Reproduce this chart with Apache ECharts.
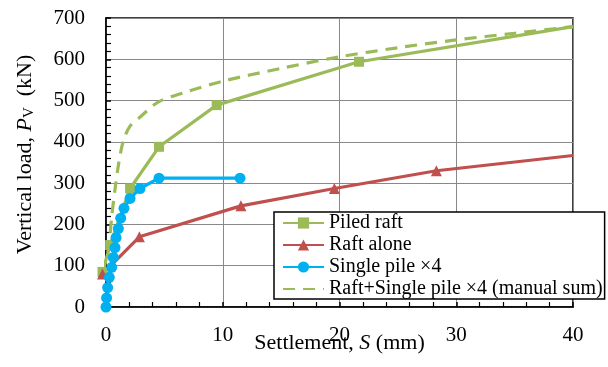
<!DOCTYPE html>
<html>
<head>
<meta charset="utf-8">
<script src="https://cdn.jsdelivr.net/npm/echarts@6/dist/echarts.min.js"></script>
<style>
  html, body { margin: 0; padding: 0; background: #fff; }
  #chart { width: 608px; height: 367px; }
</style>
</head>
<body>
<div id="chart"></div>
<script>
// settlement S (mm) and vertical load Pv (kN)
const pileRaftS = [-0.3, 0.35, 2.06, 4.54, 9.48, 21.67, 40]
const pileRaftP = [85, 150, 287, 388, 489, 594, 679]

const raftS = [-0.3, 2.86, 11.56, 19.56, 28.3, 40]
const raftP = [80, 170, 245, 287, 330, 367]

const pileS = [0, 0.05, 0.14, 0.28, 0.49, 0.63, 0.77, 0.86, 1.06, 1.26, 1.54, 2.06, 2.91, 4.54, 11.48]
const pileP = [0, 22, 47, 72, 96, 120, 144, 168, 190, 215, 239, 263, 287, 312, 312]

const sumS = [-0.3, 0.2, 0.49, 0.77, 1.1, 1.5, 2.06, 3.0, 4.5, 7, 10, 15, 20, 25, 30, 35, 40]
const sumP = [85, 138, 219, 285, 350, 404, 438, 462, 497, 522, 547, 578, 606, 628, 647, 663, 679]

const names = ['Piled raft', 'Raft alone', 'Single pile ×4', 'Raft+Single pile ×4 (manual sum)']

const green = '#9BBB59'
const red = '#C0504D'
const blue = '#00B0F0'
const font = 'Liberation Serif'

// pair up x/y; the last point of a curve that runs to the border has no marker
function pairs (xs, ys, lastBare) {
  return xs.map(function (x, i) {
    if (lastBare && i === xs.length - 1) {
      return { value: [x, ys[i]], symbol: 'none' }
    }
    return [x, ys[i]]
  })
}

const chart = echarts.init(document.getElementById('chart'))

const option = {
  animation: false,
  grid: {
    left: 106,
    top: 18,
    width: 467,
    height: 289,
    containLabel: false,
    outerBoundsMode: 'none',
    show: true,
    borderColor: '#000',
    borderWidth: 1.5,
    backgroundColor: 'transparent'
  },
  legend: {
    data: [
      names[0],
      names[1],
      names[2],
      // dashed curve has no marker, so hide the legend symbol
      { name: names[3], itemStyle: { opacity: 0 } }
    ],
    orient: 'vertical',
    left: 274,
    top: 212,
    itemWidth: 41,
    itemHeight: 14,
    itemGap: 2,
    padding: [1, 2, 0, 8],
    backgroundColor: '#fff',
    borderColor: '#000',
    borderWidth: 1.5,
    borderRadius: 0,
    textStyle: {
      fontFamily: font,
      fontSize: 20,
      lineHeight: 20,
      color: '#000'
    }
  },
  xAxis: {
    type: 'value',
    min: 0,
    max: 40,
    interval: 10,
    name: 'Settlement, {i|S} (mm)',
    nameLocation: 'middle',
    nameGap: 25,
    nameMoveOverlap: false,
    nameTextStyle: {
      fontFamily: font,
      fontSize: 22,
      color: '#000',
      rich: {
        i: { fontFamily: font, fontSize: 22, fontStyle: 'italic', color: '#000' }
      }
    },
    axisLine: { lineStyle: { color: '#000', width: 1.5 } },
    axisTick: { inside: true, length: 5, lineStyle: { color: '#000', width: 1.5 } },
    minorTick: { show: true, splitNumber: 5, length: 5, lineStyle: { color: '#000', width: 1.2 } },
    axisLabel: { margin: 18, fontFamily: font, fontSize: 21, color: '#000' },
    splitLine: { show: true, lineStyle: { color: '#888', width: 1 } }
  },
  yAxis: {
    type: 'value',
    min: 0,
    max: 700,
    interval: 100,
    name: '{n|Vertical load, }{i|P}{s|V}{n|  (kN)}',
    nameLocation: 'middle',
    nameGap: 69,
    nameMoveOverlap: false,
    nameTextStyle: {
      padding: [0, 0, 0, 16],
      rich: {
        n: { fontFamily: font, fontSize: 22, color: '#000' },
        i: { fontFamily: font, fontSize: 22, fontStyle: 'italic', color: '#000' },
        s: { fontFamily: font, fontSize: 15, color: '#000', verticalAlign: 'bottom', padding: [9, 0, 0, 0] }
      }
    },
    axisLine: { lineStyle: { color: '#000', width: 1.5 } },
    axisTick: { inside: true, length: 5, lineStyle: { color: '#000', width: 1.5 } },
    minorTick: { show: true, splitNumber: 5, length: 5, lineStyle: { color: '#000', width: 1.2 } },
    axisLabel: { margin: 21, fontFamily: font, fontSize: 21, color: '#000' },
    splitLine: { show: true, lineStyle: { color: '#888', width: 1 } }
  },
  series: [
    {
      name: names[3],
      type: 'line',
      data: pairs(sumS, sumP, false),
      symbol: 'none',
      smooth: 0.3,
      clip: false,
      z: 2,
      lineStyle: { color: green, width: 3.2, type: [12, 8] },
      itemStyle: { color: green }
    },
    {
      name: names[0],
      type: 'line',
      data: pairs(pileRaftS, pileRaftP, true),
      symbol: 'rect',
      symbolSize: 10,
      clip: false,
      z: 3,
      lineStyle: { color: green, width: 3.2 },
      itemStyle: { color: green }
    },
    {
      name: names[1],
      type: 'line',
      data: pairs(raftS, raftP, true),
      symbol: 'triangle',
      symbolSize: 11,
      clip: false,
      z: 3,
      lineStyle: { color: red, width: 3.2 },
      itemStyle: { color: red }
    },
    {
      name: names[2],
      type: 'line',
      data: pairs(pileS, pileP, false),
      symbol: 'circle',
      symbolSize: 11,
      clip: false,
      z: 4,
      lineStyle: { color: blue, width: 3.2 },
      itemStyle: { color: blue }
    }
  ]
}

chart.setOption(option)
</script>
</body>
</html>
